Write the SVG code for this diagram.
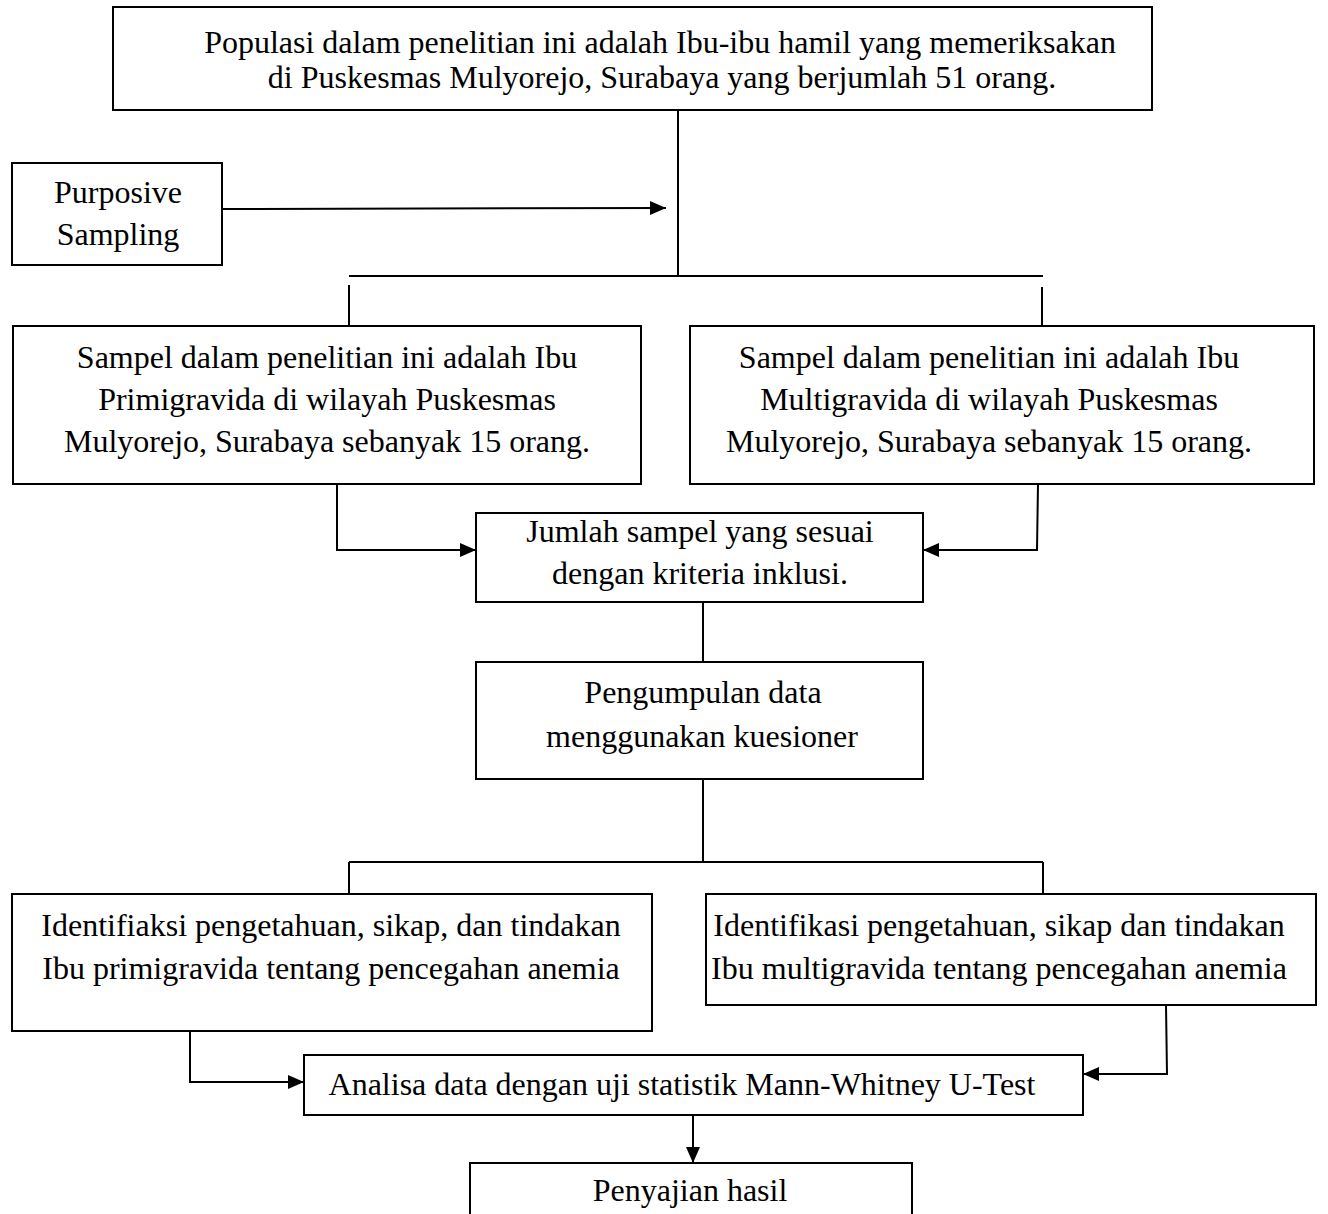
<svg xmlns="http://www.w3.org/2000/svg" width="1328" height="1214" viewBox="0 0 1328 1214">
<style>
rect{fill:#fff;stroke:#000;stroke-width:2}
text{font-family:"Liberation Serif","Times New Roman",serif;font-size:32px;fill:#000;text-anchor:middle}
#connectors line,#connectors polyline{stroke:#000;stroke-width:2;fill:none}
</style>
<defs>
<marker id="ah" viewBox="0 0 16 14" refX="16" refY="7" markerWidth="16" markerHeight="14" markerUnits="userSpaceOnUse" orient="auto"><path d="M0,0L16,7L0,14z" fill="#000"/></marker>
</defs>
<rect width="1328" height="1214" style="stroke:none"/>
<g id="connectors">
<line x1="678" y1="110" x2="678" y2="276"/>
<line x1="222" y1="209" x2="666" y2="208" marker-end="url(#ah)"/>
<line x1="349" y1="276" x2="1043" y2="276"/>
<line x1="349" y1="285" x2="349" y2="326"/>
<line x1="1042" y1="287" x2="1042" y2="326"/>
<polyline points="337,484 337,550 476,550" marker-end="url(#ah)"/>
<polyline points="1038,484 1037,550 923,550" marker-end="url(#ah)"/>
<line x1="703" y1="602" x2="703" y2="662"/>
<line x1="703" y1="779" x2="703" y2="862"/>
<line x1="349" y1="862" x2="1043" y2="862"/>
<line x1="349" y1="862" x2="349" y2="894"/>
<line x1="1043" y1="862" x2="1043" y2="894"/>
<polyline points="190,1031 190,1082 304,1082" marker-end="url(#ah)"/>
<polyline points="1166,1005 1167,1074 1083,1074" marker-end="url(#ah)"/>
<line x1="693" y1="1115" x2="693" y2="1163" marker-end="url(#ah)"/>
</g>
<g id="n1"><rect x="113" y="7" width="1039" height="103"/>
<text x="660" y="53">Populasi dalam penelitian ini adalah Ibu-ibu hamil yang memeriksakan</text>
<text x="662" y="88">di Puskesmas Mulyorejo, Surabaya yang berjumlah 51 orang.</text></g>
<g id="n2"><rect x="12" y="163" width="210" height="102"/>
<text x="118" y="203">Purposive</text>
<text x="118" y="245">Sampling</text></g>
<g id="n3"><rect x="13" y="326" width="628" height="158"/>
<text x="327" y="368">Sampel dalam penelitian ini adalah Ibu</text>
<text x="327" y="410">Primigravida di wilayah Puskesmas</text>
<text x="327" y="452">Mulyorejo, Surabaya sebanyak 15 orang.</text></g>
<g id="n4"><rect x="690" y="326" width="624" height="158"/>
<text x="989" y="368">Sampel dalam penelitian ini adalah Ibu</text>
<text x="989" y="410">Multigravida di wilayah Puskesmas</text>
<text x="989" y="452">Mulyorejo, Surabaya sebanyak 15 orang.</text></g>
<g id="n5"><rect x="476" y="513" width="447" height="89"/>
<text x="700" y="542">Jumlah sampel yang sesuai</text>
<text x="700" y="584">dengan kriteria inklusi.</text></g>
<g id="n6"><rect x="476" y="662" width="447" height="117"/>
<text x="703" y="703">Pengumpulan data</text>
<text x="702" y="747">menggunakan kuesioner</text></g>
<g id="n7"><rect x="12" y="894" width="640" height="137"/>
<text x="331" y="936">Identifiaksi pengetahuan, sikap, dan tindakan</text>
<text x="331" y="979">Ibu primigravida tentang pencegahan anemia</text></g>
<g id="n8"><rect x="706" y="894" width="610" height="111"/>
<text x="999" y="936">Identifikasi pengetahuan, sikap dan tindakan</text>
<text x="999" y="979">Ibu multigravida tentang pencegahan anemia</text></g>
<g id="n9"><rect x="304" y="1055" width="779" height="60"/>
<text x="682" y="1095">Analisa data dengan uji statistik Mann-Whitney U-Test</text></g>
<g id="n10"><rect x="470" y="1163" width="442" height="60"/>
<text x="690" y="1201">Penyajian hasil</text></g>
</svg>
